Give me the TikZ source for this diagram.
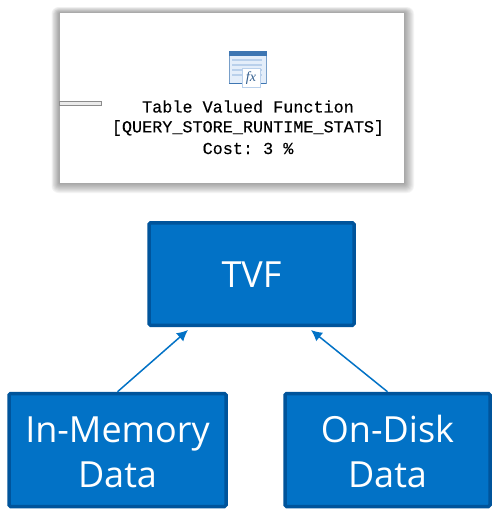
\documentclass[tikz,border=0pt]{standalone}
\usepackage{fontspec}
\setmainfont{Open Sans}
\setmonofont{Liberation Mono}[UprightFeatures={FakeBold=0.35}]
\newfontfamily\fxfont{Liberation Serif}
\definecolor{boxblue}{RGB}{2,114,198}
\definecolor{boxedge}{RGB}{0,84,155}
\definecolor{planshade}{RGB}{70,70,70}
\definecolor{iconband}{RGB}{62,118,178}
\definecolor{iconbody}{RGB}{228,238,250}
\definecolor{iconline}{RGB}{185,208,235}
\tikzset{
  databox/.style={draw=boxedge,fill=boxblue,line width=3.5pt,rounded corners=1.5pt,text=white,align=center,inner sep=0pt,font=\fontsize{36}{45}\selectfont},
  feedarrow/.style={draw=boxblue,line width=1.5pt,-{Latex[length=11pt,width=11pt]}},
  plantext/.style={inner sep=0pt,font=\fontsize{16.8}{21}\selectfont\ttfamily,text=black}
}
\usetikzlibrary{arrows.meta}
\begin{document}
\begin{tikzpicture}[x=1pt,y=-1pt]
\path[use as bounding box,fill=white] (0,0) rectangle (492,520);
% plan screenshot
\foreach \s in {10,9,8,7,6,5,4,3,2,1}
  \fill[planshade,opacity=0.06,rounded corners=\s*0.7pt] (59.5-\s*0.8,13-\s*0.6) rectangle (404+\s,183+\s);
\fill[white] (59.5,13) rectangle (404,183);
\draw[black!45,fill=black!8,line width=1pt] (59.5,101.5) rectangle (101.5,105.5);
% icon
\draw[iconband!70,fill=iconbody,line width=1pt] (229,51) rectangle (266,83);
\fill[iconband] (228.5,50.5) rectangle (266.5,56);
\foreach \y in {60,65,70,75}
  \draw[iconline,line width=1.5pt] (232,\y) -- (262,\y);
\draw[iconband,line width=1pt] (229,83.5) -- (266,83.5);
\draw[iconline,fill=white,line width=1pt] (242,68) rectangle (260,87);
\node[inner sep=0pt,font=\fontsize{14}{14}\selectfont\fxfont\itshape,text=iconband!80!black] (fxmark) at (251,78) {fx};
% plan labels
\node[plantext] (plantitle) at (248,106.5) {Table Valued Function};
\node[plantext] (planobject) at (248,128) {[QUERY\_STORE\_RUNTIME\_STATS]};
\node[plantext] (plancost) at (248,148.5) {Cost: 3 \%};
% boxes
\node[databox,minimum width=205pt,minimum height=102.5pt] (tvf) at (251.5,274) {\rule{0pt}{27.7pt}TVF};
\node[databox,minimum width=217pt,minimum height=113pt] (inmemory) at (117.5,450) {\rule{0pt}{30pt}In-Memory\\Data};
\node[databox,minimum width=205pt,minimum height=113pt] (ondisk) at (387.5,450) {\rule{0pt}{31pt}On-Disk\\Data};
\coordinate (tvfleft) at (188,330);
\coordinate (tvfright) at (311,330);
\draw[feedarrow] (inmemory.north) -- (tvfleft);
\draw[feedarrow] (ondisk.north) -- (tvfright);
\end{tikzpicture}
\end{document}
